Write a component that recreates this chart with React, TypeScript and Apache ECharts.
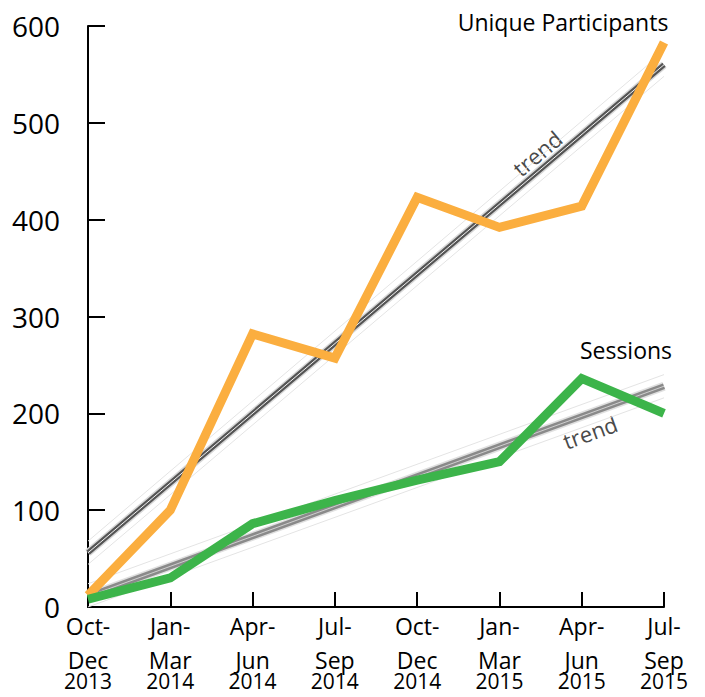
import React, { useEffect, useRef } from "react";
import * as echarts from "echarts";

const categories = [
  "Oct-\nDec\n2013",
  "Jan-\nMar\n2014",
  "Apr-\nJun\n2014",
  "Jul-\nSep\n2014",
  "Oct-\nDec\n2014",
  "Jan-\nMar\n2015",
  "Apr-\nJun\n2015",
  "Jul-\nSep\n2015",
];
const participants = [12, 100, 282, 257, 423, 392, 414, 583];
const sessions = [8, 30, 86, 110, 131, 150, 236, 200];
// trend lines: [start, end]
const participantsTrend = [56, 560];
const sessionsTrend = [11, 228];
const participantsTrendFaintA = [68, 574];
const participantsTrendFaintB = [44, 548];
const sessionsTrendFaintA = [24, 240];
const sessionsTrendFaintB = [0, 216];
const yTicks = [0, 100, 200, 300, 400, 500, 600];

const FONT = "'Open Sans', 'Noto Sans', sans-serif";

function seg(v: number[]) {
  return [
    [0, v[0]],
    [categories.length - 1, v[1]],
  ];
}

function lineSeries(name: string, data: any, color: string, width: number, z: number) {
  return {
    type: "line",
    name,
    data,
    symbol: "none",
    silent: true,
    z,
    lineStyle: { color, width, join: "miter", cap: "butt" },
  };
}

export default function App() {
  const ref = useRef<HTMLDivElement>(null);
  useEffect(() => {
    if (!ref.current) return;
    const chart = echarts.init(ref.current, undefined, { renderer: "svg" });
    chart.setOption({
      animation: false,
      grid: { left: 88, right: 41, top: 26, bottom: 90 },
      xAxis: {
        type: "category",
        data: categories,
        boundaryGap: false,
        axisLine: { lineStyle: { color: "#000", width: 2 } },
        axisTick: { inside: true, length: 15, lineStyle: { color: "#000", width: 2 } },
        axisLabel: {
          margin: 2,
          interval: 0,
          formatter: (v: string) => {
            const p = v.split("\n");
            return `{a|${p[0]}}\n{b|${p[1]}}\n{c|${p[2]}}`;
          },
          rich: {
            a: { fontFamily: FONT, fontSize: 23, color: "#000", lineHeight: 34 },
            b: { fontFamily: FONT, fontSize: 23, color: "#000", lineHeight: 34 },
            c: { fontFamily: FONT, fontSize: 21, color: "#000", lineHeight: 8 },
          },
        },
        splitLine: { show: false },
      },
      yAxis: {
        type: "value",
        min: yTicks[0],
        max: yTicks[yTicks.length - 1],
        interval: 100,
        axisLine: { show: true, lineStyle: { color: "#000", width: 2 } },
        axisTick: { show: true, inside: true, length: 17, lineStyle: { color: "#000", width: 2 } },
        axisLabel: { margin: 28, fontFamily: FONT, fontSize: 28, color: "#000" },
        splitLine: { show: false },
      },
      series: [
        lineSeries("pf1", seg(participantsTrendFaintA), "#e4e4e4", 1, 1),
        lineSeries("pf2", seg(participantsTrendFaintB), "#e4e4e4", 1, 1),
        lineSeries("sf1", seg(sessionsTrendFaintA), "#e4e4e4", 1, 1),
        lineSeries("sf2", seg(sessionsTrendFaintB), "#e4e4e4", 1, 1),
        lineSeries("ptHalo", seg(participantsTrend), "#d8d8d8", 8, 2),
        lineSeries("pt", seg(participantsTrend), "#555555", 5, 3),
        lineSeries("ptInner", seg(participantsTrend), "#f2f2f2", 1, 4),
        lineSeries("stHalo", seg(sessionsTrend), "#e0e0e0", 9, 2),
        lineSeries("st", seg(sessionsTrend), "#8a8a8a", 6, 3),
        lineSeries("stInner", seg(sessionsTrend), "#cfcfcf", 1, 4),
        lineSeries("Unique Participants", participants, "#FBAE3F", 9, 5),
        lineSeries("Sessions", sessions, "#3CB44A", 9, 6),
      ],
      graphic: [
        {
          type: "text",
          x: 563,
          y: 22,
          style: {
            text: "Unique Participants",
            fontFamily: FONT,
            fontSize: 23,
            fill: "#000",
            align: "center",
            verticalAlign: "middle",
          },
        },
        {
          type: "text",
          x: 626,
          y: 350,
          style: {
            text: "Sessions",
            fontFamily: FONT,
            fontSize: 23,
            fill: "#000",
            align: "center",
            verticalAlign: "middle",
          },
        },
        {
          type: "text",
          x: 537,
          y: 153,
          rotation: (40 * Math.PI) / 180,
          style: {
            text: "trend",
            fontFamily: FONT,
            fontSize: 22,
            fill: "#4a4a4a",
            align: "center",
            verticalAlign: "middle",
          },
        },
        {
          type: "text",
          x: 590,
          y: 432,
          rotation: (20 * Math.PI) / 180,
          style: {
            text: "trend",
            fontFamily: FONT,
            fontSize: 22,
            fill: "#4a4a4a",
            align: "center",
            verticalAlign: "middle",
          },
        },
      ],
    });
    return () => chart.dispose();
  }, []);
  return <div ref={ref} style={{ width: 705, height: 697, position: "absolute", left: 0, top: 0 }} />;
}
